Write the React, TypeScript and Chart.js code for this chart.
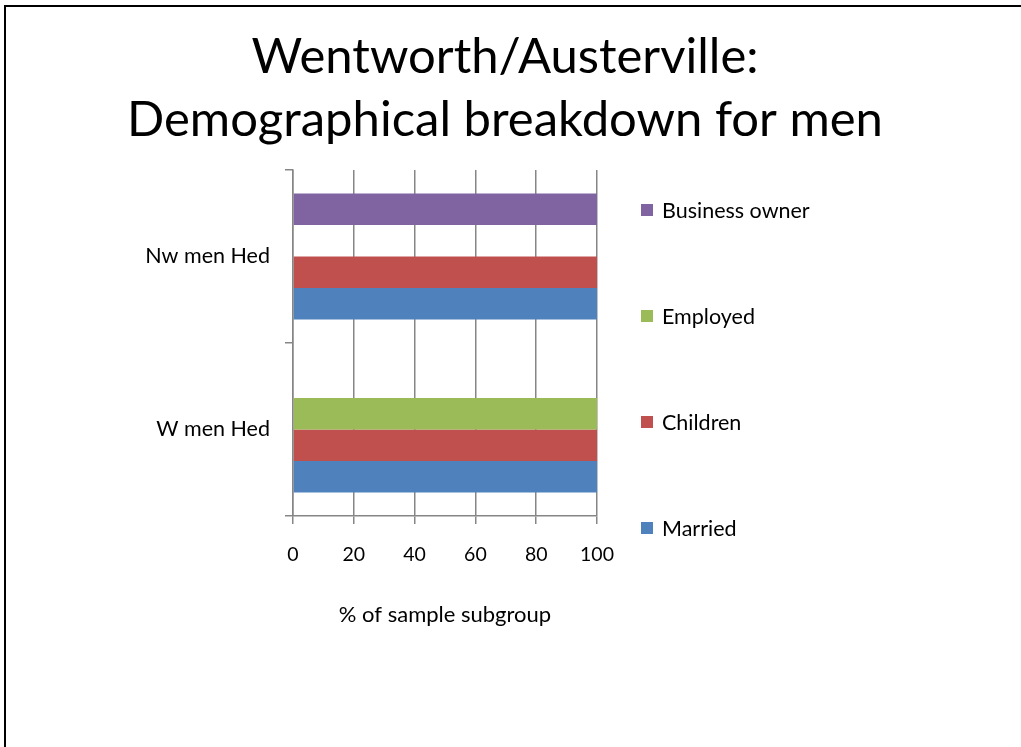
import React, { useEffect, useRef } from "react";
import { Chart, registerables } from "chart.js";

Chart.register(...registerables);

const titleLines = ["Wentworth/Austerville:", "Demographical breakdown for men"];
const categories = ["Nw men Hed", "W men Hed"];
const seriesNames = ["Business owner", "Employed", "Children", "Married"];
const businessOwner = [100, 0];
const employed = [0, 100];
const children = [100, 100];
const married = [100, 100];
const seriesColors = ["#8064A2", "#9BBB59", "#C0504D", "#4F81BD"];
const xMin = 0;
const xMax = 100;
const xStep = 20;
const xAxisTitle = "% of sample subgroup";

const FONT = "Lato, 'Noto Sans', sans-serif";
const GRID = "#868686";

export default function App() {
  const canvasRef = useRef<HTMLCanvasElement | null>(null);

  useEffect(() => {
    const canvas = canvasRef.current;
    if (!canvas) return;
    const seriesValues = [businessOwner, employed, children, married];
    const chart = new Chart(canvas, {
      type: "bar",
      data: {
        labels: categories,
        datasets: seriesNames.map((name, i) => ({
          label: name,
          data: seriesValues[i],
          backgroundColor: seriesColors[i],
          borderWidth: 0,
          categoryPercentage: 0.728,
          barPercentage: 1,
        })),
      },
      options: {
        indexAxis: "y",
        animation: false,
        responsive: false,
        maintainAspectRatio: false,
        color: "#000",
        layout: { padding: { top: 0, left: 0, right: 11, bottom: 0 } },
        plugins: {
          legend: { display: false },
          tooltip: { enabled: false },
          title: {
            display: true,
            text: titleLines,
            color: "#000",
            font: { family: FONT, size: 49, weight: "normal", lineHeight: 1.28 },
            padding: { top: 26, bottom: 18.5 },
          },
        },
        scales: {
          x: {
            type: "linear",
            min: xMin,
            max: xMax,
            ticks: {
              stepSize: xStep,
              color: "#000",
              font: { family: FONT, size: 19.5 },
              padding: 19,
              maxRotation: 0,
            },
            grid: { color: GRID, lineWidth: 1.5, tickLength: 8, drawTicks: true },
            border: { display: true, color: GRID, width: 1.5 },
            title: {
              display: true,
              text: xAxisTitle,
              color: "#000",
              font: { family: FONT, size: 22, lineHeight: 1.2 },
              padding: { top: 0, bottom: 119 },
            },
            afterFit: (s: any) => {
              s.height = 231;
              s.paddingLeft = 0;
              s.paddingRight = 0;
            },
          },
          y: {
            type: "category",
            offset: true,
            ticks: {
              color: "#000",
              font: { family: FONT, size: 21.5 },
              padding: 15,
            },
            grid: {
              offset: true,
              drawOnChartArea: false,
              drawTicks: true,
              tickLength: 8,
              color: GRID,
              lineWidth: 1.5,
            },
            border: { display: true, color: GRID, width: 1.5 },
            afterFit: (s: any) => {
              s.width = 293;
              s.paddingTop = 0;
              s.paddingBottom = 0;
            },
          },
          side: {
            type: "linear",
            position: "right",
            display: true,
            grid: { display: false, drawTicks: false },
            ticks: { display: false },
            border: { display: false },
            afterFit: (s: any) => {
              s.width = 413;
            },
          },
        },
      },
    });
    return () => chart.destroy();
  }, []);

  return (
    <div
      style={{
        position: "fixed",
        left: 0,
        top: 0,
        width: 1021,
        height: 747,
        background: "#fff",
        overflow: "hidden",
      }}
    >
      <canvas
        ref={canvasRef}
        width={1021}
        height={747}
        style={{ position: "absolute", left: 0, top: 0, width: 1021, height: 747, display: "block" }}
      />
      <div
        style={{
          position: "absolute",
          left: 4,
          top: 5,
          width: 1017,
          height: 2,
          background: "#000",
          pointerEvents: "none",
        }}
      />
      <div
        style={{
          position: "absolute",
          left: 4,
          top: 5,
          width: 2,
          height: 742,
          background: "#000",
          pointerEvents: "none",
        }}
      />
      <div
        style={{
          position: "absolute",
          left: 1008,
          top: 7,
          width: 13,
          height: 740,
          background: "#fff",
          pointerEvents: "none",
        }}
      />
      {seriesNames.map((name, i) => (
        <div
          key={name}
          style={{
            position: "absolute",
            left: 641,
            top: 197 + i * 106,
            height: 26,
            display: "flex",
            alignItems: "center",
            fontFamily: FONT,
            fontSize: 21.5,
            color: "#000",
            whiteSpace: "nowrap",
          }}
        >
          <span
            style={{
              display: "inline-block",
              width: 12,
              height: 12,
              background: seriesColors[i],
              marginRight: 9,
            }}
          />
          <span>{name}</span>
        </div>
      ))}
    </div>
  );
}
